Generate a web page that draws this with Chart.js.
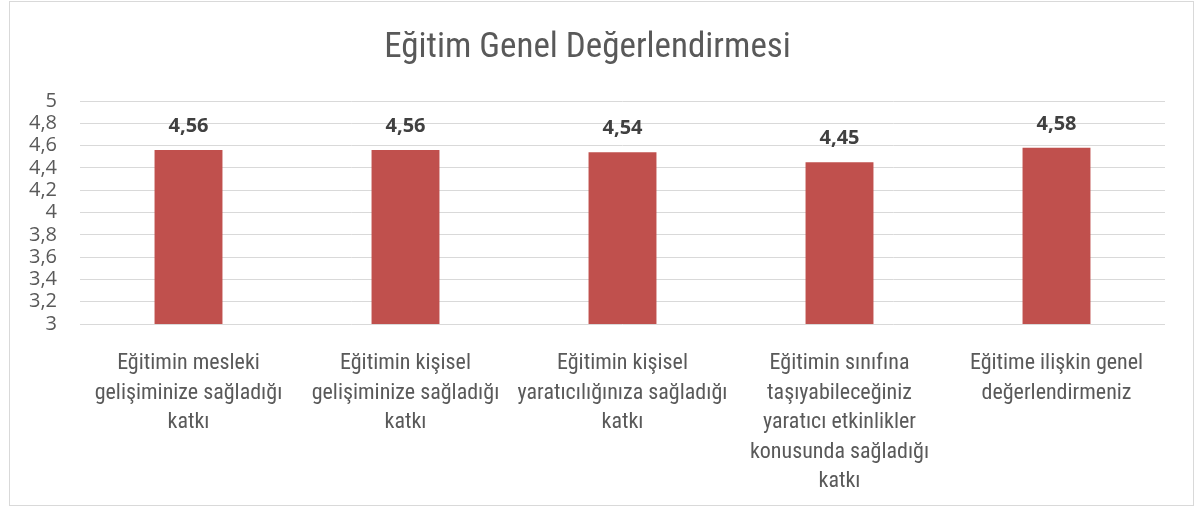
<!DOCTYPE html>
<html>
<head>
<meta charset="utf-8">
<script src="https://cdn.jsdelivr.net/npm/chart.js@4.4.1/dist/chart.umd.min.js"></script>
<style>
  body { margin: 0; background: #fff; }
  #box {
    position: absolute; left: 9px; top: 1px;
    width: 1183px; height: 503px;
    border: 1px solid #d9d9d9;
  }
</style>
</head>
<body>
<div id="box"><canvas id="chart" width="1183" height="503"></canvas></div>
<script>
let chartTitle = "Eğitim Genel Değerlendirmesi";

let categories = [
    ["Eğitimin mesleki", "gelişiminize sağladığı", "katkı"],
    ["Eğitimin kişisel", "gelişiminize sağladığı", "katkı"],
    ["Eğitimin kişisel", "yaratıcılığınıza sağladığı", "katkı"],
    ["Eğitimin sınıfına", "taşıyabileceğiniz", "yaratıcı etkinlikler", "konusunda sağladığı", "katkı"],
    ["Eğitime ilişkin genel", "değerlendirmeniz"]
];
let scores = [4.56, 4.56, 4.54, 4.45, 4.58];

let yMin = 3;
let yMax = 5;
let yStep = 0.2;

const condensed = "'Roboto Condensed', 'Liberation Sans Narrow', 'DejaVu Sans Condensed', sans-serif";
const plain = "'Open Sans', 'Noto Sans', sans-serif";

function trNumber(v, digits) {
    return Number(v.toFixed(digits)).toString().replace(".", ",");
}

// value labels over the bars
const valueLabels = {
    id: "valueLabels",
    afterDatasetsDraw(chart) {
        const ctx = chart.ctx;
        const meta = chart.getDatasetMeta(0);
        ctx.save();
        ctx.font = "bold 20px " + plain;
        ctx.fillStyle = "#404040";
        ctx.textAlign = "center";
        ctx.textBaseline = "middle";
        meta.data.forEach((bar, i) => {
            let v = chart.data.datasets[0].data[i];
            ctx.fillText(v.toFixed(2).replace(".", ","), bar.x, bar.y - 24);
        });
        ctx.restore();
    }
};

const ctx = document.getElementById("chart").getContext("2d");
new Chart(ctx, {
    type: "bar",
    data: {
        labels: categories,
        datasets: [{
            data: scores,
            backgroundColor: "#C0504D",
            categoryPercentage: 1,
            barPercentage: 0.313
        }]
    },
    options: {
        responsive: false,
        animation: false,
        layout: { padding: { left: 0, right: 28, top: 0, bottom: 0 } },
        plugins: {
            legend: { display: false },
            tooltip: { enabled: false },
            title: {
                display: true,
                text: chartTitle,
                color: "#595959",
                font: { family: condensed, size: 35, weight: "normal", lineHeight: 1.2 },
                padding: { top: 25, bottom: 32 }
            }
        },
        scales: {
            x: {
                grid: { display: false },
                border: { display: false },
                ticks: {
                    color: "#595959",
                    font: { family: condensed, size: 22, lineHeight: 1.34 },
                    padding: 17,
                    maxRotation: 0,
                    autoSkip: false
                },
                afterFit(scale) { scale.height = 181; }
            },
            y: {
                min: yMin,
                max: yMax,
                grid: { color: "#d9d9d9", lineWidth: 1, drawTicks: false },
                border: { display: false },
                ticks: {
                    stepSize: yStep,
                    autoSkip: false,
                    color: "#595959",
                    font: { family: plain, size: 20 },
                    padding: 23,
                    callback: (v) => trNumber(v, 1)
                },
                afterFit(scale) { scale.width = 70; }
            }
        }
    },
    plugins: [valueLabels]
});
</script>
</body>
</html>
